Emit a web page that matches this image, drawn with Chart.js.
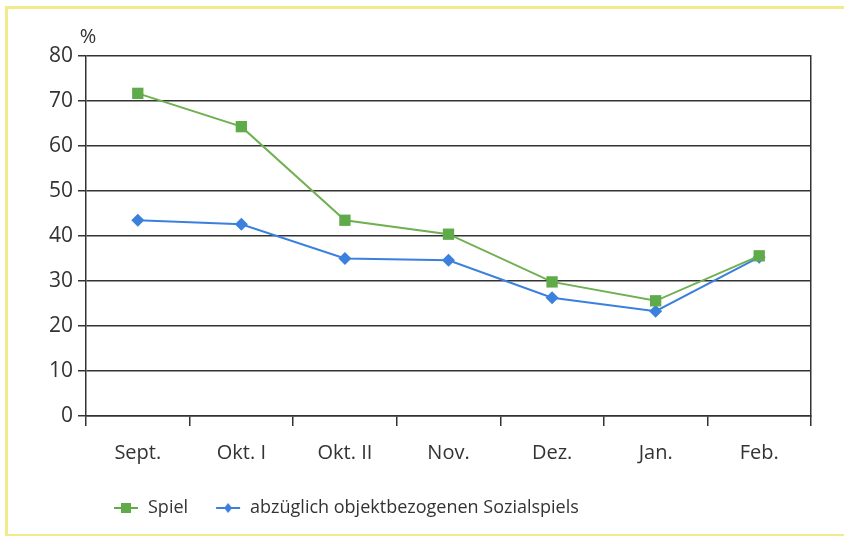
<!DOCTYPE html>
<html>
<head>
<meta charset="utf-8">
<script src="https://cdn.jsdelivr.net/npm/chart.js@4/dist/chart.umd.min.js"></script>
<style>
  html, body { margin: 0; padding: 0; background: #fff; overflow: hidden; }
  #wrap { position: relative; width: 844px; height: 536px; overflow: hidden; }
  #frame {
    position: absolute; left: 5px; top: 6px; width: 900px; height: 531px;
    border: 3px solid #f3ea8c; box-sizing: border-box; pointer-events: none;
  }
  canvas { position: absolute; left: 0; top: 0; }
</style>
</head>
<body>
<div id="wrap">
  <canvas id="chart" width="844" height="536"></canvas>
  <div id="frame"></div>
</div>
<script>
// --- data ---
const months = ["Sept.", "Okt. I", "Okt. II", "Nov.", "Dez.", "Jan.", "Feb."];
const spielValues = [71.7, 64.3, 43.5, 40.4, 29.8, 25.6, 35.6];
const ohneSozialValues = [43.5, 42.6, 35.0, 34.6, 26.3, 23.3, 35.3];
const yTicks = [0, 10, 20, 30, 40, 50, 60, 70, 80];

const GREEN = "#5fab4a";
const GREEN_LINE = "#6fb050";
const BLUE = "#3b80dd";
const INK = "#333333";
const FONT = "'Open Sans', sans-serif";

// small icon for the legend: a short line with the marker on top
function legendIcon(color, shape) {
    const c = document.createElement("canvas");
    c.width = 26; c.height = 14;
    const g = c.getContext("2d");
    g.strokeStyle = color;
    g.lineWidth = 2;
    g.beginPath(); g.moveTo(1, 7); g.lineTo(25, 7); g.stroke();
    g.fillStyle = color;
    if (shape === "rect") {
        g.fillRect(8, 2, 10, 10);
    } else {
        g.beginPath();
        g.moveTo(13, 2); g.lineTo(17, 7); g.lineTo(13, 12); g.lineTo(9, 7);
        g.closePath(); g.fill();
    }
    return c;
}

// "%" unit label above the y axis
const unitLabel = {
    id: "unitLabel",
    afterDraw(chart) {
        const { ctx, chartArea } = chart;
        ctx.save();
        ctx.fillStyle = INK;
        ctx.font = "20px " + FONT;
        ctx.textAlign = "center";
        ctx.textBaseline = "middle";
        ctx.fillText("%", chartArea.left + 2, chartArea.top - 19);
        ctx.restore();
    }
};

new Chart(document.getElementById("chart"), {
    type: "line",
    data: {
        labels: months,
        datasets: [
            {
                label: "Spiel",
                data: spielValues,
                borderColor: GREEN_LINE,
                backgroundColor: GREEN,
                borderWidth: 2,
                pointStyle: "rect",
                pointRadius: 8,
                pointBorderWidth: 0,
                tension: 0
            },
            {
                label: "abzüglich objektbezogenen Sozialspiels",
                data: ohneSozialValues,
                borderColor: BLUE,
                backgroundColor: BLUE,
                borderWidth: 2,
                pointStyle: "rectRot",
                pointRadius: 6.5,
                pointBorderWidth: 0,
                tension: 0
            }
        ]
    },
    options: {
        responsive: false,
        animation: false,
        layout: { padding: { left: 0, right: 33, top: 56, bottom: 9 } },
        plugins: {
            tooltip: { enabled: false },
            legend: {
                position: "bottom",
                align: "start",
                fullSize: false,
                labels: {
                    usePointStyle: true,
                    pointStyleWidth: 26,
                    padding: 27,
                    color: INK,
                    font: { family: FONT, size: 18 },
                    generateLabels(chart) {
                        return chart.data.datasets.map((ds, i) => ({
                            text: ds.label,
                            pointStyle: legendIcon(ds.backgroundColor, ds.pointStyle === "rect" ? "rect" : "diamond"),
                            fillStyle: ds.backgroundColor,
                            strokeStyle: ds.borderColor,
                            lineWidth: 0,
                            fontColor: INK,
                            datasetIndex: i
                        }));
                    }
                }
            }
        },
        scales: {
            x: {
                offset: true,
                grid: {
                    offset: true,
                    drawOnChartArea: false,
                    drawTicks: true,
                    tickLength: 10,
                    color: INK,
                    lineWidth: 1.5
                },
                border: { display: true, color: INK, width: 1.5 },
                ticks: { color: INK, padding: 15, font: { family: FONT, size: 20 } },
                afterFit(scale) { scale.height = 56; }
            },
            y: {
                min: 0,
                max: 80,
                afterBuildTicks(scale) { scale.ticks = yTicks.map(v => ({ value: v })); },
                grid: { color: INK, lineWidth: 1.5, tickLength: 8 },
                border: { display: true, color: INK, width: 1.5 },
                ticks: { color: INK, padding: 5, font: { family: FONT, size: 21 } },
                afterFit(scale) { scale.width = 86; }
            },
            y2: {
                position: "right",
                min: 0,
                max: 80,
                grid: { drawOnChartArea: false, drawTicks: false },
                border: { display: true, color: INK, width: 1.5 },
                ticks: { display: false },
                afterFit(scale) { scale.width = 0; }
            }
        }
    },
    plugins: [unitLabel]
});
</script>
</body>
</html>
